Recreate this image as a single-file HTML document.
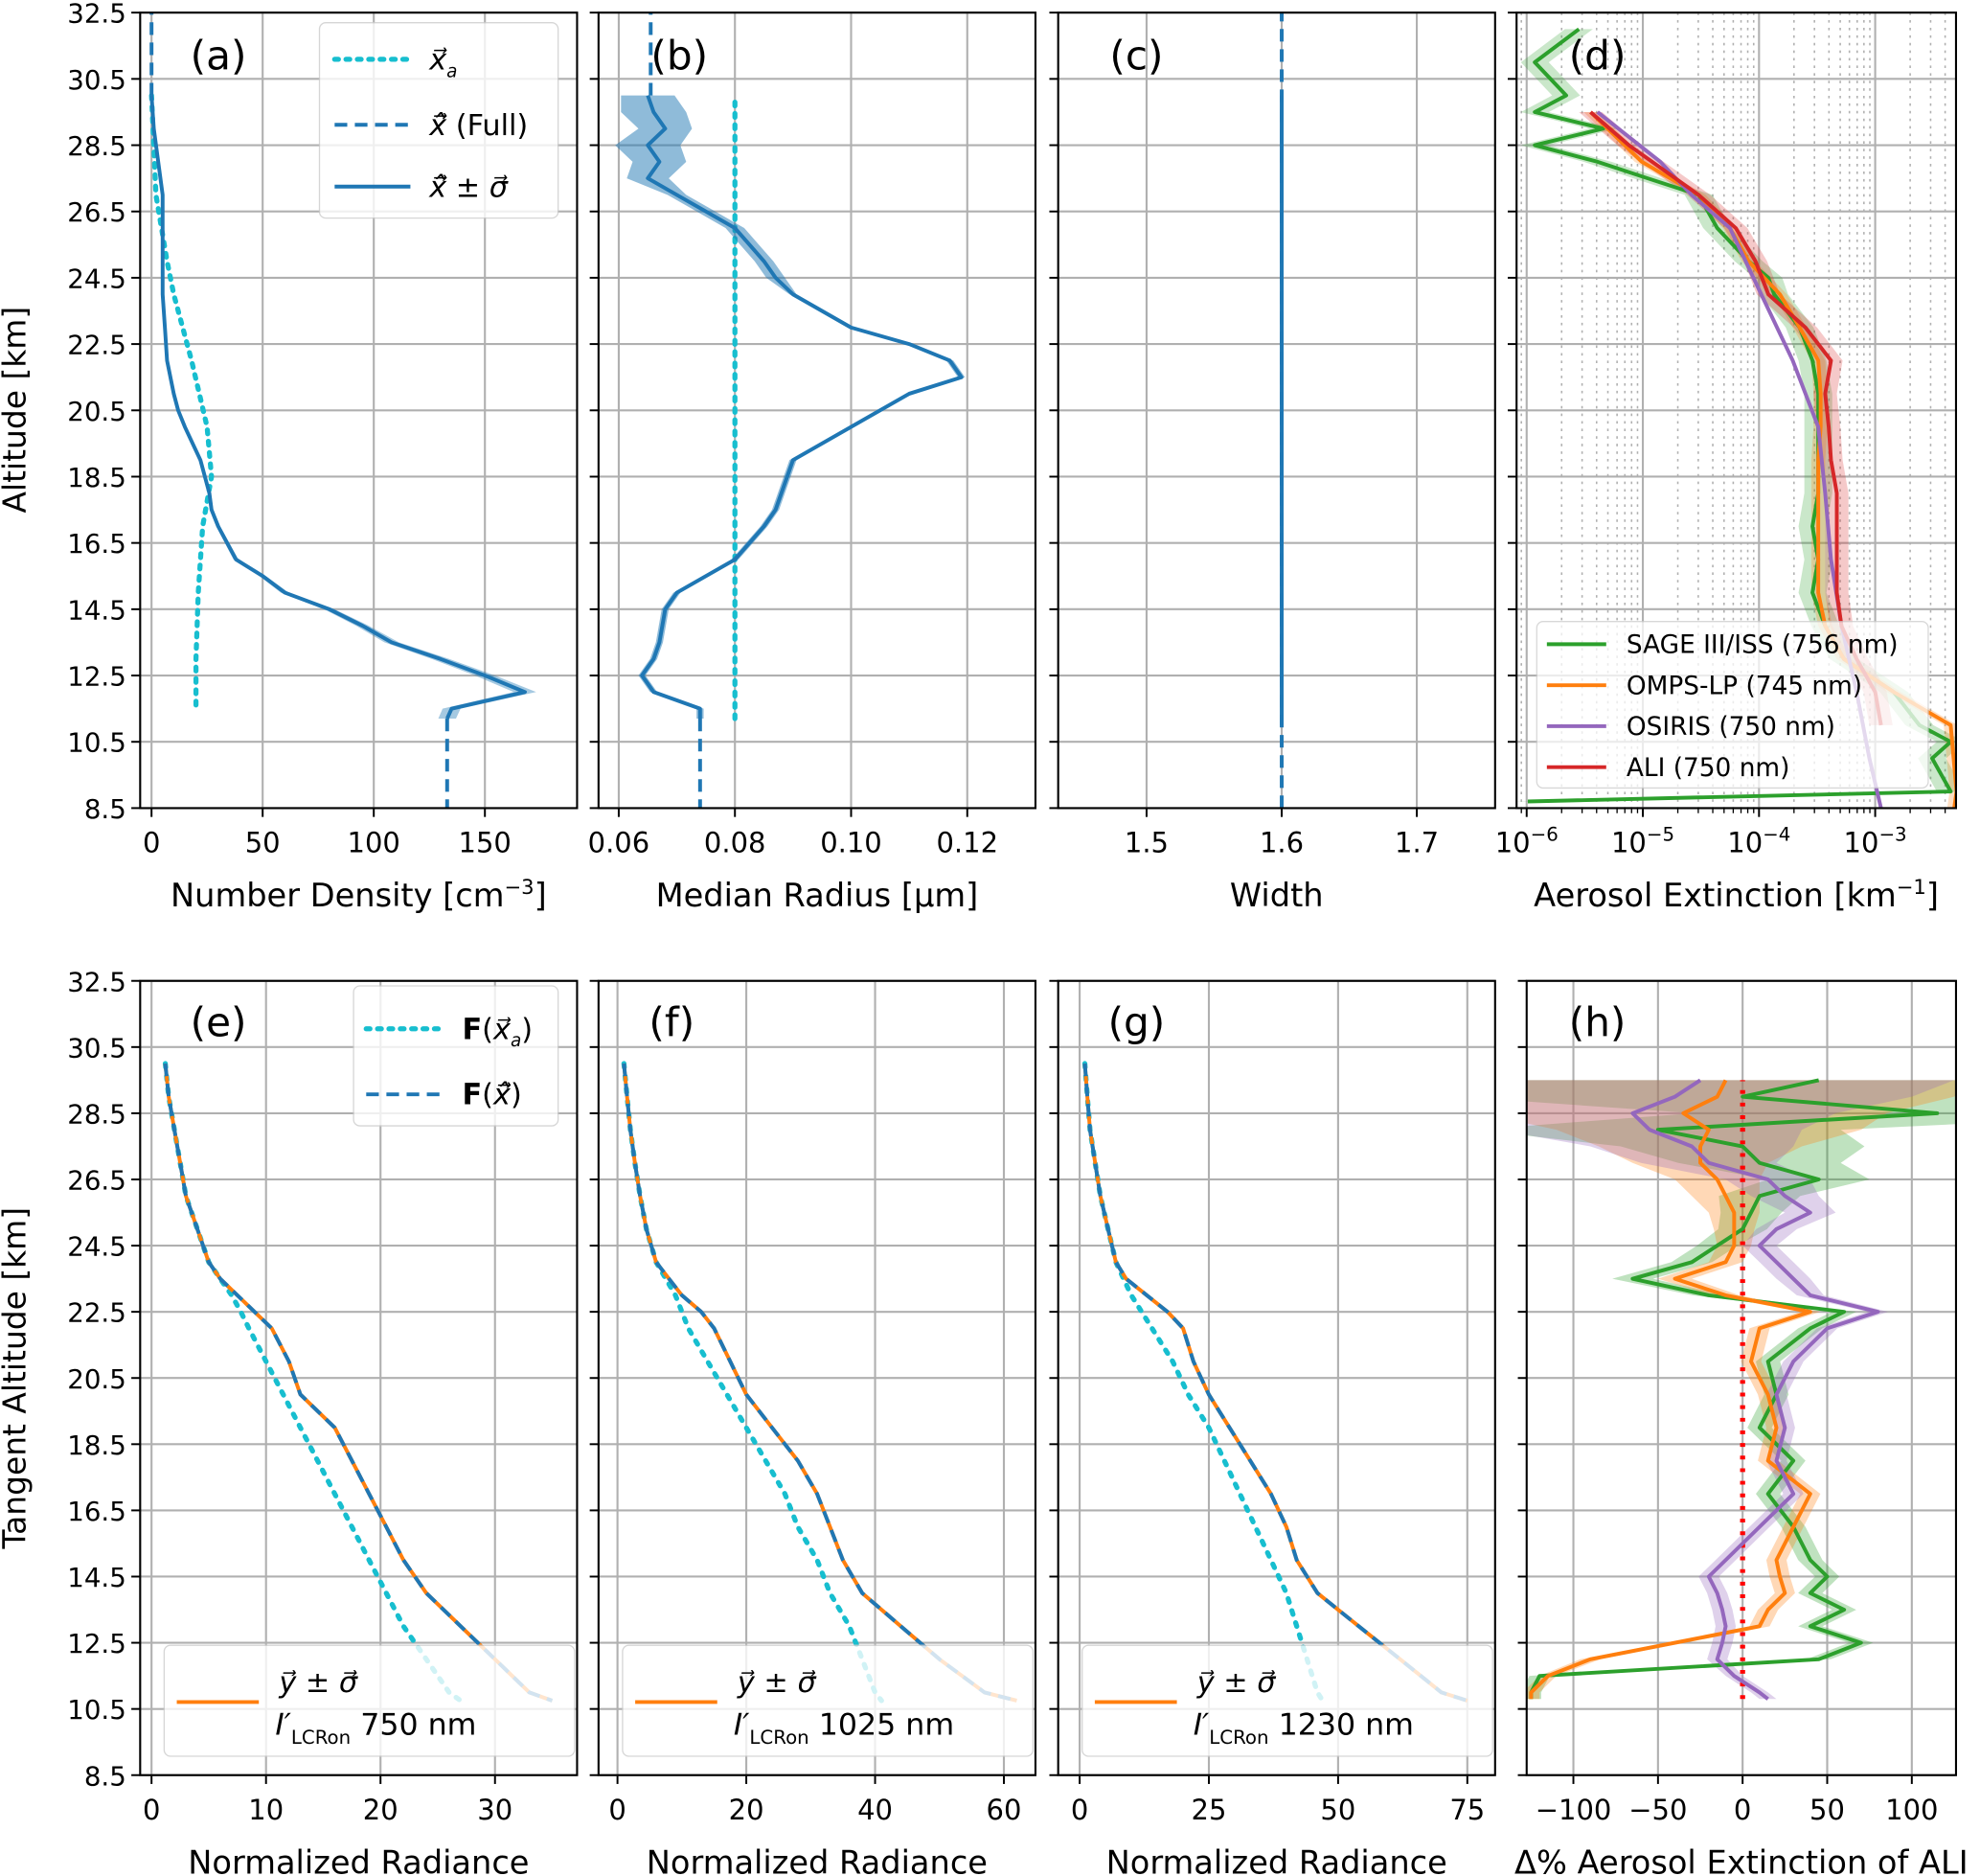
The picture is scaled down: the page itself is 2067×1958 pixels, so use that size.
<!DOCTYPE html>
<html><head><meta charset="utf-8"><style>
html,body{margin:0;padding:0;background:#fff}
svg{display:block;font-family:"DejaVu Sans","Liberation Sans",sans-serif}
</style></head><body>
<svg id="fig" xmlns="http://www.w3.org/2000/svg" width="2067" height="1958" viewBox="0 0 1568 1488" preserveAspectRatio="none"></svg>
<script>
// ---------- DATA ----------
const altA=[30,29,28,27,26.5,26,25,24,23,22,21,20.5,20,19,18,17.5,17,16,15.5,15,14.5,14,13.5,13,12.5,12,11.5,11.2];
const densHat=[0,1,3,5,5,5,5,5,6,7,10,12,15,22,26,27,30,38,50,60,80,95,108,130,150,168,135,133];
const altAp=[30,27,25,24,22,20,18.5,17,15,13,11.5];
const densAp=[0,2,7,10,18,25,27,23,21,20,20];
const altB=[30,29.5,29,28.5,28,27.5,27,26.5,26,25,24.5,24,23,22.5,22,21.5,21,20,19,17.5,17,16,15,14.5,13.5,13,12.5,12,11.5,11.2];
const radHat=[0.065,0.066,0.068,0.065,0.067,0.065,0.070,0.075,0.080,0.085,0.087,0.090,0.100,0.110,0.117,0.119,0.110,0.100,0.090,0.087,0.085,0.080,0.070,0.068,0.067,0.066,0.064,0.066,0.074,0.074];
const radSig=[0.004,0.005,0.004,0.005,0.004,0.003,0.001,0.001,0.001,0.001,0.001,0,0,0,0,0,0,0,0,0,0,0,0,0,0,0,0,0,0,0];
const radAp=0.08;
const widthVal=1.6;
const altD=[29.5,28,27,26,24,22,20,18,16,14,12,10,8.5];
const osirisLog=[-5.39,-4.85,-4.58,-4.25,-3.98,-3.71,-3.49,-3.43,-3.38,-3.29,-3.16,-3.05,-2.95];
const altDr=[29.5,28.5,27,26,25,24,23,22,21,20,19,18,17,16,15,14,13,12,11];
const aliLog=[-5.45,-5.12,-4.52,-4.20,-4.03,-3.92,-3.60,-3.38,-3.43,-3.40,-3.38,-3.33,-3.33,-3.33,-3.33,-3.29,-3.16,-3.00,-2.95];
const altDo=[29.5,28,27,26,25,24,23,22,21,20,19,18,17,16,15,14,13,12,11,9,8.5];
const ompsLog=[-5.45,-5.01,-4.52,-4.25,-4.09,-3.82,-3.65,-3.49,-3.47,-3.47,-3.49,-3.49,-3.49,-3.49,-3.49,-3.43,-3.27,-2.84,-2.35,-2.30,-2.32];
const altDg=[32,31,30,29.5,29,28.5,28,27.5,27,26,25,24.5,24,23,22,21,20,19,18,17,16,15,14,13,12,11,10.5,10,9,8.7];
const sageLog=[-5.55,-5.93,-5.66,-5.93,-5.34,-5.93,-5.39,-4.96,-4.52,-4.36,-4.09,-3.92,-3.87,-3.65,-3.54,-3.49,-3.49,-3.49,-3.49,-3.54,-3.49,-3.54,-3.43,-3.27,-2.84,-2.62,-2.35,-2.51,-2.35,-5.99];
const altR=[30,29,28,27,26,25,24,23.5,23,22.5,22,21,20,19,18,17,16,15,14,13,12,11,10.75];
const radEHat=[1.2,1.5,2,2.5,3,4,5,6,7.5,9,10.5,12,13,16,17.5,19,20.5,22,24,27,30,33,35];
const radEAp=[1.2,1.5,2,2.5,3,4,5,6,7,7.8,8.5,10,11.5,13,14.5,16,17.5,19,20.5,22,24,26,27];
const radFHat=[1,1.5,2,2.7,3.5,4.5,6,8,10,13,15,17.5,20,24,28,31,33,35,38,44,50,57,62];
const radFAp=[1,1.5,2,2.7,3.5,4.5,6,7.5,9,10,11,14,17,20,23,26,28,31,33,36,38,40,41];
const radGHat=[1,1.5,2,3,4,5.5,7,9,13,17,20,22,25,29,33,37,40,42,46,54,62,70,75];
const radGAp=[1,1.5,2,3,4,5.5,7,8.5,10,12,14,18,21,25,28,31,34,37,40,42,44,46,47];
const altH=[29.5,29,28.5,28,27.5,27,26.5,26,25.5,25,24.5,24,23.5,23,22.5,22,21,20,19,18,17,16,15,14.5,14,13.5,13,12.5,12,11.5,11,10.8];
const osirisPct=[-25,-40,-65,-55,-30,-20,15,25,40,20,10,20,30,40,80,50,30,20,25,20,30,10,-10,-20,-15,-12,-10,-12,-15,-5,10,15];
const ompsPct=[-10,-15,-35,-20,-25,-25,-15,-10,-5,-5,-5,-10,-40,-10,40,10,5,15,20,15,40,30,20,22,25,15,10,-40,-90,-115,-125,-125];
const sagePct=[45,0,115,-50,0,10,45,10,5,0,-15,-30,-65,-20,60,40,15,20,10,30,15,30,40,50,40,60,40,70,45,-120,-125,-125];
const pctSig=[150,140,120,90,60,40,25,20,15,12,10,10,10,8,6,6,6,6,6,6,6,6,6,6,6,6,6,6,6,5,5,5];

// ---------- HELPERS ----------
const NS="http://www.w3.org/2000/svg";const svg=document.getElementById('fig');
function mk(tag,attrs,parent,name){const e=document.createElementNS(NS,tag);for(const k in attrs)e.setAttribute(k,attrs[k]);


(parent||svg).appendChild(e);return e;}
const C={cy:'#17becf',bl:'#1f77b4',or:'#ff7f0e',gr:'#2ca02c',pu:'#9467bd',rd:'#d62728'};
const yTop=a=>10+(32.5-a)*26.29, yBot=a=>778+(32.5-a)*26.25;
function lin(v0,p0,v1,p1){return v=>p0+(v-v0)*(p1-p0)/(v1-v0);}
function path(xs,ys,X,Y,st,g,name){let d='';xs.forEach((x,i)=>{d+=(i?'L':'M')+X(x).toFixed(1)+','+Y(ys[i]).toFixed(1);});return mk('path',Object.assign({d:d,fill:'none','stroke-width':3,'stroke-linejoin':'round'},st),g,name);}
function band(xs,sig,ys,X,Y,fill,op,g,name){let d='';xs.forEach((x,i)=>{d+=(i?'L':'M')+X(x+sig[i]).toFixed(1)+','+Y(ys[i]).toFixed(1);});for(let i=xs.length-1;i>=0;i--)d+='L'+X(xs[i]-sig[i]).toFixed(1)+','+Y(ys[i]).toFixed(1);return mk('path',{d:d+'Z',fill:fill,opacity:op},g,name);}
function clip(id,x0,x1,y0,y1){const cp=mk('clipPath',{id:id},svg,'clip');mk('rect',{x:x0,y:y0,width:x1-x0,height:y1-y0},cp,'clip-rect');}
function txt(s,x,y,size,anchor,g,name){const t=mk('text',{x:x,y:y,'font-size':size,'text-anchor':anchor||'middle'},g,name);t.innerHTML=s;return t;}
function axes(id,x0,x1,y0,y1,X,xt,xl,Y,yt,showY,xlabel){
  const g=mk('g',{},svg,id+'-axes');
  xt.forEach((v,i)=>{const x=X(v);mk('line',{x1:x,x2:x,y1:y0,y2:y1,stroke:'#b0b0b0','stroke-width':1.6},g,'x-grid');mk('line',{x1:x,x2:x,y1:y1,y2:y1+7,stroke:'#000','stroke-width':1.5},g,'x-tick');txt(xl[i],x,y1+35,22,'middle',g,'x-tick-label');});
  yt.forEach(a=>{const y=Y(a);mk('line',{x1:x0,x2:x1,y1:y,y2:y,stroke:'#b0b0b0','stroke-width':1.6},g,'y-grid');mk('line',{x1:x0-7,x2:x0,y1:y,y2:y,stroke:'#000','stroke-width':1.5},g,'y-tick');if(showY)txt(a.toFixed(1),x0-11,y+8,21,'end',g,'y-tick-label');});
  txt(xlabel,(x0+x1)/2,y1+78,25.5,'middle',g,'x-axis-title');
  return g;}
function frame(x0,x1,y0,y1,name){mk('rect',{x:x0,y:y0,width:x1-x0,height:y1-y0,fill:'none',stroke:'#000','stroke-width':1.6},svg,name);}
const altTicks=[8.5,10.5,12.5,14.5,16.5,18.5,20.5,22.5,24.5,26.5,28.5,30.5,32.5];
const T0=10,T1=641,B0=778,B1=1408;

// ---------- PANEL A ----------
{const x0=111,x1=457,X=lin(0,120,150,384);
axes('a',x0,x1,T0,T1,X,[0,50,100,150],['0','50','100','150'],yTop,altTicks,true,'Number Density [cm<tspan dy="-10" font-size="16">−3</tspan><tspan dy="10">]</tspan>');
clip('ca',x0,x1,T0,T1);const g=mk('g',{'clip-path':'url(#ca)'},svg,'panel-a-series');
path(densAp,altAp,X,yTop,{stroke:C.cy,'stroke-dasharray':'3,6','stroke-width':4,'stroke-linecap':'round'},g,'apriori-line');
band(densHat,densHat.map(v=>v*0.03),altA,X,yTop,C.bl,0.4,g,'retrieval-band');
path(densHat,altA,X,yTop,{stroke:C.bl},g,'retrieval-line');
path([densHat[27],densHat[27]],[11.2,8.5],X,yTop,{stroke:C.bl,'stroke-dasharray':'10,6'},g,'full-dashed-bottom');
path([0,0],[30,32.5],X,yTop,{stroke:C.bl,'stroke-dasharray':'10,6'},g,'full-dashed-top');
frame(x0,x1,T0,T1,'panel-a-frame');txt('(a)',173,55,32,'middle',svg,'panel-a-label');
const lg=mk('g',{},svg,'legend-a');mk('rect',{x:253,y:18,width:189,height:155,rx:5,fill:'#fff',opacity:0.8,stroke:'#ccc'},lg,'legend-box');
mk('line',{x1:265,x2:325,y1:47,y2:47,stroke:C.cy,'stroke-width':4,'stroke-dasharray':'3,6','stroke-linecap':'round'},lg,'legend-apriori');
txt('<tspan font-style="italic">x⃗</tspan><tspan font-size="14" dy="6" font-style="italic">a</tspan>',340,55,23,'start',lg,'legend-apriori-label');
mk('line',{x1:265,x2:325,y1:99,y2:99,stroke:C.bl,'stroke-width':3,'stroke-dasharray':'10,6'},lg,'legend-full');
txt('<tspan font-style="italic">x̂⃗</tspan> (Full)',340,107,23,'start',lg,'legend-full-label');
mk('line',{x1:265,x2:325,y1:148,y2:148,stroke:C.bl,'stroke-width':3},lg,'legend-retrieval');
txt('<tspan font-style="italic">x̂⃗</tspan> ± <tspan font-style="italic">σ⃗</tspan>',340,156,23,'start',lg,'legend-retrieval-label');}

// ---------- PANEL B ----------
{const x0=474,x1=820,X=lin(0.06,490,0.12,766);
axes('b',x0,x1,T0,T1,X,[0.06,0.08,0.10,0.12],['0.06','0.08','0.10','0.12'],yTop,altTicks,false,'Median Radius [µm]');
clip('cb',x0,x1,T0,T1);const g=mk('g',{'clip-path':'url(#cb)'},svg,'panel-b-series');
path([radAp,radAp],[11.2,30],X,yTop,{stroke:C.cy,'stroke-dasharray':'3,6','stroke-width':4,'stroke-linecap':'round'},g,'apriori-line');
band(radHat,radSig.map((s,i)=>s+0.0006),altB,X,yTop,C.bl,0.5,g,'retrieval-band');
path(radHat,altB,X,yTop,{stroke:C.bl},g,'retrieval-line');
path([0.074,0.074],[11.2,8.5],X,yTop,{stroke:C.bl,'stroke-dasharray':'10,6'},g,'full-dashed-bottom');
path([0.0655,0.0655],[30,32.5],X,yTop,{stroke:C.bl,'stroke-dasharray':'10,6'},g,'full-dashed-top');
frame(x0,x1,T0,T1,'panel-b-frame');txt('(b)',538,55,32,'middle',svg,'panel-b-label');}

// ---------- PANEL C ----------
{const x0=838,x1=1184,X=lin(1.5,908,1.7,1122);
axes('c',x0,x1,T0,T1,X,[1.5,1.6,1.7],['1.5','1.6','1.7'],yTop,altTicks,false,'Width');
const g=mk('g',{},svg,'panel-c-series');
path([widthVal,widthVal],[11,30],X,yTop,{stroke:C.bl},g,'retrieval-line');
path([widthVal,widthVal],[8.5,32.5],X,yTop,{stroke:C.bl,'stroke-dasharray':'10,6'},g,'full-dashed');
frame(x0,x1,T0,T1,'panel-c-frame');txt('(c)',900,55,32,'middle',svg,'panel-c-label');}

// ---------- PANEL D ----------
{const x0=1201,x1=1549,X=lin(-6,1209,-3,1485);
const gd=mk('g',{},svg,'minor-grid-d');
for(let d=-7;d<=-3;d++)for(let m=2;m<=9;m++){const x=X(d+Math.log10(m));if(x>x0&&x<x1){mk('line',{x1:x,x2:x,y1:T0,y2:T1,stroke:'#b0b0b0','stroke-width':1.2,'stroke-dasharray':'2,4'},gd,'x-minor-grid');mk('line',{x1:x,x2:x,y1:T1,y2:T1+4,stroke:'#000','stroke-width':1},gd,'x-minor-tick');}}
axes('d',x0,x1,T0,T1,X,[-6,-5,-4,-3],['10<tspan dy="-9" font-size="15">−6</tspan>','10<tspan dy="-9" font-size="15">−5</tspan>','10<tspan dy="-9" font-size="15">−4</tspan>','10<tspan dy="-9" font-size="15">−3</tspan>'],yTop,altTicks,false,'Aerosol Extinction [km<tspan dy="-10" font-size="16">−1</tspan><tspan dy="10">]</tspan>');
clip('cd',x0,x1,T0,T1);const g=mk('g',{'clip-path':'url(#cd)'},svg,'panel-d-series');
band(sageLog,sageLog.map(v=>0.12),altDg,X,yTop,C.gr,0.25,g,'sage-band');
band(ompsLog,ompsLog.map(v=>0.06),altDo,X,yTop,C.or,0.25,g,'omps-band');
band(aliLog,aliLog.map(v=>0.1),altDr,X,yTop,C.rd,0.25,g,'ali-band');
path(sageLog,altDg,X,yTop,{stroke:C.gr},g,'sage-line');
path(ompsLog,altDo,X,yTop,{stroke:C.or},g,'omps-line');
path(osirisLog,altD,X,yTop,{stroke:C.pu},g,'osiris-line');
path(aliLog,altDr,X,yTop,{stroke:C.rd},g,'ali-line');
frame(x0,x1,T0,T1,'panel-d-frame');txt('(d)',1265,55,32,'middle',svg,'panel-d-label');
const lg=mk('g',{},svg,'legend-d');mk('rect',{x:1217,y:493,width:310,height:132,rx:5,fill:'#fff',opacity:0.75,stroke:'#ccc'},lg,'legend-box');
[['SAGE III/ISS (756 nm)',C.gr],['OMPS-LP (745 nm)',C.or],['OSIRIS (750 nm)',C.pu],['ALI (750 nm)',C.rd]].forEach((e,i)=>{const y=511+i*32.5;mk('line',{x1:1225,x2:1272,y1:y,y2:y,stroke:e[1],'stroke-width':3},lg,'legend-entry-line');txt(e[0],1288,y+7,20,'start',lg,'legend-entry-label');});}

// ---------- PANELS E,F,G ----------
function radPanel(id,x0,x1,X,xt,hat,ap,lbl,wl,showY){
 axes(id,x0,x1,B0,B1,X,xt,xt.map(String),yBot,altTicks,showY,'Normalized Radiance');
 clip('c'+id,x0,x1,B0,B1);const g=mk('g',{'clip-path':'url(#c'+id+')'},svg,'panel-'+id+'-series');
 path(ap,altR,X,yBot,{stroke:C.cy,'stroke-dasharray':'3,7','stroke-width':4,'stroke-linecap':'round'},g,'forward-apriori-line');
 path(hat,altR,X,yBot,{stroke:C.or},g,'measured-line');
 path(hat,altR,X,yBot,{stroke:C.bl,'stroke-dasharray':'10,6'},g,'forward-retrieval-line');
 frame(x0,x1,B0,B1,'panel-'+id+'-frame');txt('('+id+')',lbl,822,32,'middle',svg,'panel-'+id+'-label');
 const lg=mk('g',{},svg,'legend-'+id);mk('rect',{x:x0+19,y:1305,width:325,height:88,rx:5,fill:'#fff',opacity:0.8,stroke:'#ccc'},lg,'legend-box');
 mk('line',{x1:x0+29,x2:x0+94,y1:1350,y2:1350,stroke:C.or,'stroke-width':3},lg,'legend-measured');
 txt('<tspan font-style="italic">y⃗</tspan> ± <tspan font-style="italic">σ⃗</tspan>',x0+110,1342,23,'start',lg,'legend-measured-label');
 txt('<tspan font-style="italic">I′</tspan><tspan font-size="15" dy="7">LCRon</tspan><tspan dy="-7"> '+wl+' nm</tspan>',x0+107,1376,24,'start',lg,'legend-measured-sub');}
radPanel('e',111,457,lin(0,120,30,392),[0,10,20,30],radEHat,radEAp,173,'750',true);
radPanel('f',474,820,lin(0,489,60,795),[0,20,40,60],radFHat,radFAp,532,'1025',false);
radPanel('g',838,1184,lin(0,855,75,1162),[0,25,50,75],radGHat,radGAp,900,'1230',false);
{const lg=mk('g',{},svg,'legend-e-top');mk('rect',{x:280,y:782,width:162,height:111,rx:5,fill:'#fff',opacity:0.8,stroke:'#ccc'},lg,'legend-box');
mk('line',{x1:290,x2:350,y1:816,y2:816,stroke:C.cy,'stroke-width':4,'stroke-dasharray':'3,6','stroke-linecap':'round'},lg,'legend-fxa');
txt('<tspan font-weight="bold">F</tspan>(<tspan font-style="italic">x⃗</tspan><tspan font-size="14" dy="6" font-style="italic">a</tspan><tspan dy="-6">)</tspan>',366,824,23,'start',lg,'legend-fxa-label');
mk('line',{x1:290,x2:350,y1:868,y2:868,stroke:C.bl,'stroke-width':3,'stroke-dasharray':'10,6'},lg,'legend-fxhat');
txt('<tspan font-weight="bold">F</tspan>(<tspan font-style="italic">x̂⃗</tspan>)',366,876,23,'start',lg,'legend-fxhat-label');}

// ---------- PANEL H ----------
{const x0=1209,x1=1549,X=lin(0,1380,100,1514);
axes('h',x0,x1,B0,B1,X,[-100,-50,0,50,100],['−100','−50','0','50','100'],yBot,altTicks,false,'Δ% Aerosol Extinction of ALI');
clip('ch',x0,x1,B0,B1);const g=mk('g',{'clip-path':'url(#ch)'},svg,'panel-h-series');
band(sagePct,pctSig.map(s=>s*1.2),altH,X,yBot,C.gr,0.3,g,'sage-band');
band(ompsPct,pctSig,altH,X,yBot,C.or,0.3,g,'omps-band');
band(osirisPct,pctSig,altH,X,yBot,C.pu,0.3,g,'osiris-band');
path([0,0],[10.8,29.5],X,yBot,{stroke:'#f00','stroke-dasharray':'3,7','stroke-width':4},g,'zero-line');
path(sagePct,altH,X,yBot,{stroke:C.gr},g,'sage-line');
path(ompsPct,altH,X,yBot,{stroke:C.or},g,'omps-line');
path(osirisPct,altH,X,yBot,{stroke:C.pu},g,'osiris-line');
frame(x0,x1,B0,B1,'panel-h-frame');txt('(h)',1265,822,32,'middle',svg,'panel-h-label');}

// y-axis titles
{const t=txt('Altitude [km]',0,0,25,'middle',svg,'y-axis-title-top');t.setAttribute('transform','translate(20,325) rotate(-90)');
const t2=txt('Tangent Altitude [km]',0,0,25,'middle',svg,'y-axis-title-bottom');t2.setAttribute('transform','translate(20,1093) rotate(-90)');}
</script>
</body></html>
